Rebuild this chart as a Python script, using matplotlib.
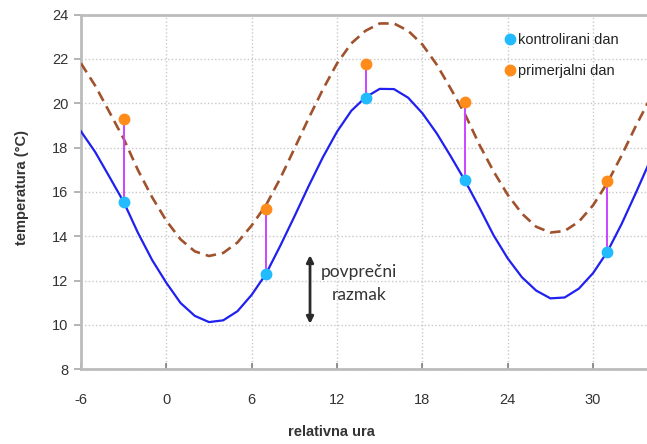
import matplotlib
matplotlib.use("Agg")
import matplotlib.pyplot as plt
from matplotlib.lines import Line2D

# Hourly temperatures (relative hour -6 .. 34)
hours = list(range(-6, 35))
control_curve = [18.73, 17.80, 16.68, 15.55, 14.16, 12.93, 11.90, 10.99, 10.41, 10.13,
                 10.21, 10.62, 11.36, 12.30, 13.56, 14.89, 16.26, 17.56, 18.72, 19.66,
                 20.27, 20.65, 20.64, 20.25, 19.55, 18.65, 17.60, 16.50, 15.30, 14.05,
                 13.00, 12.15, 11.55, 11.20, 11.24, 11.64, 12.34, 13.30, 14.55, 15.95,
                 17.40]
example_curve = [21.80, 20.79, 19.60, 18.40, 16.99, 15.76, 14.70, 13.86, 13.32, 13.11,
                 13.25, 13.72, 14.49, 15.40, 16.60, 17.95, 19.32, 20.62, 21.80, 22.70,
                 23.27, 23.60, 23.60, 23.27, 22.65, 21.75, 20.65, 19.50, 18.14, 16.93,
                 15.87, 15.02, 14.43, 14.17, 14.24, 14.66, 15.40, 16.41, 17.64, 18.97,
                 20.20]

# Sampled hours with measured values
sample_hours = [-3, 7, 14, 21, 31]
control_points = [15.55, 12.28, 20.25, 16.52, 13.28]
example_points = [19.30, 15.25, 21.75, 20.05, 16.50]

x_ticks = [-6, 0, 6, 12, 18, 24, 30]
y_ticks = [8, 10, 12, 14, 16, 18, 20, 22, 24]

legend_labels = ["kontrolirani dan", "primerjalni dan"]
gap_text = "povprečni\nrazmak"
gap_range = (10.05, 13.15)
gap_x = 10.1

plt.rcParams["font.family"] = ["Liberation Sans", "DejaVu Sans"]
plt.rcParams["axes.unicode_minus"] = False

W, H = 647, 444
fig = plt.figure(figsize=(W / 100, H / 100), dpi=100)
ax = fig.add_axes([81 / W, (H - 369.3) / H, (650 - 81) / W, (369.3 - 14.6) / H])

ax.set_xlim(-6, 34)
ax.set_ylim(8, 24)
ax.set_xticks(x_ticks)
ax.set_yticks(y_ticks)

grid_kw = dict(color="#c8c8c8", linewidth=1.0, linestyle=(0, (1, 1.6)))
ax.grid(True, **grid_kw)
ax.set_axisbelow(True)

for side in ["left", "bottom", "top"]:
    ax.spines[side].set_color("#bcbcbc")
    ax.spines[side].set_linewidth(2.0)
ax.spines["right"].set_visible(False)

ax.tick_params(axis="y", direction="out", length=5, width=1.2, color="#a8a8a8",
               labelsize=10.5, labelcolor="#333333", pad=4)
ax.tick_params(axis="x", direction="in", length=4, width=1.2, color="#808080",
               labelsize=10.5, labelcolor="#333333", pad=17)

# Curves
ax.plot(hours, control_curve, color="#2020f0", linewidth=1.6, zorder=3)
ax.plot(hours, example_curve, color="#a0522d", linewidth=1.9,
        dashes=(4, 2.3), zorder=3)

# Differences between the two days at sampled hours
for h, c, e in zip(sample_hours, control_points, example_points):
    ax.plot([h, h], [c, e], color="#cc44ff", linewidth=1.4, zorder=4)

ax.plot(sample_hours, control_points, linestyle="none", marker="o", markersize=7.5,
        markerfacecolor="#22bbff", markeredgecolor="#22bbff", zorder=5)
ax.plot(sample_hours, example_points, linestyle="none", marker="o", markersize=7.5,
        markerfacecolor="#ff8c1a", markeredgecolor="#ff8c1a", zorder=5)

# Average gap arrow
ax.annotate("", xy=(gap_x, gap_range[1]), xytext=(gap_x, gap_range[0]),
            arrowprops=dict(arrowstyle="<|-|>", color="#2a2a2a", lw=2.0,
                            mutation_scale=10, shrinkA=0, shrinkB=0), zorder=6)
ax.text(13.55, 11.87, gap_text, ha="center", va="center", multialignment="center",
        fontsize=12.5, color="#333333", family=["Lato", "DejaVu Sans"],
        linespacing=1.5, zorder=6)

# Legend
handles = [
    Line2D([], [], linestyle="none", marker="o", markersize=7.5,
           markerfacecolor="#22bbff", markeredgecolor="#22bbff"),
    Line2D([], [], linestyle="none", marker="o", markersize=7.5,
           markerfacecolor="#ff8c1a", markeredgecolor="#ff8c1a"),
]
leg = fig.legend(handles, legend_labels, loc="upper left",
                 bbox_to_anchor=(505 / W, 1 - 33 / H), frameon=False,
                 fontsize=10.5, handlelength=0.7, handletextpad=0.2,
                 labelspacing=1.15, borderpad=0, borderaxespad=0)
for t in leg.get_texts():
    t.set_color("#222222")

fig.text(22 / W, 1 - 187 / H, "temperatura (°C)", rotation=90, ha="center",
         va="center", fontsize=10.5, fontweight="bold", color="#333333")
fig.text(331 / W, 1 - 432 / H, "relativna ura", ha="center", va="center",
         fontsize=10.5, fontweight="bold", color="#333333")

fig.savefig("out.png", dpi=100)
